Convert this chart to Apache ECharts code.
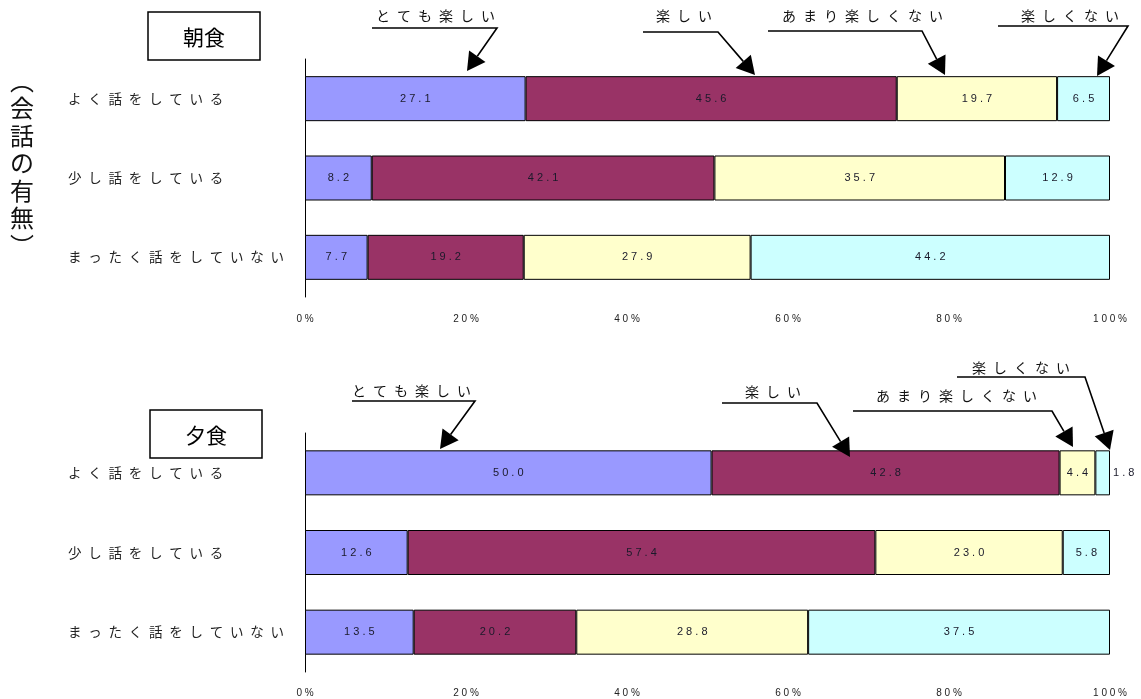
<!DOCTYPE html>
<html>
<head>
<meta charset="utf-8">
<script src="https://cdn.jsdelivr.net/npm/echarts@6/dist/echarts.min.js"></script>
<style>
  html, body { margin: 0; padding: 0; background: #fff; }
  #chart { width: 1141px; height: 699px; }
</style>
</head>
<body>
<div id="chart"></div>
<script>
// Conversation at meals (rows) vs. how enjoyable the meal is (stacked segments), in percent
const categories = ['よく話をしている', '少し話をしている', 'まったく話をしていない'];
const responses = ['とても楽しい', '楽しい', 'あまり楽しくない', '楽しくない'];
const panelTitles = ['朝食', '夕食'];

// 朝食 (breakfast)
const breakfastVeryFun = [27.1, 8.2, 7.7];
const breakfastFun = [45.6, 42.1, 19.2];
const breakfastNotVery = [19.7, 35.7, 27.9];
const breakfastNotFun = [6.5, 12.9, 44.2];

// 夕食 (dinner)
const dinnerVeryFun = [50.0, 12.6, 13.5];
const dinnerFun = [42.8, 57.4, 20.2];
const dinnerNotVery = [4.4, 23.0, 28.8];
const dinnerNotFun = [1.8, 5.8, 37.5];

const axisTicks = [0, 20, 40, 60, 80, 100];

const panels = [
  [breakfastVeryFun, breakfastFun, breakfastNotVery, breakfastNotFun],
  [dinnerVeryFun, dinnerFun, dinnerNotVery, dinnerNotFun]
];

const colors = ['#9999FF', '#993366', '#FFFFCC', '#CCFFFF'];
const JP = '"Noto Sans CJK JP", "Noto Sans", sans-serif';
const NUM = '"Liberation Sans", Arial, sans-serif';
const EN = '\u2002';

// spread the characters of a string apart
const spaced = (s, gap) => Array.from(String(s)).join(gap || EN);

const grids = [
  { left: 305, top: 59, width: 805, height: 238 },
  { left: 305, top: 433, width: 805, height: 239 }
];

const xAxes = grids.map((g, i) => ({
  type: 'value',
  gridIndex: i,
  min: axisTicks[0],
  max: axisTicks[axisTicks.length - 1],
  interval: axisTicks[1] - axisTicks[0],
  axisLine: { show: false },
  axisTick: { show: false },
  splitLine: { show: false },
  axisLabel: {
    formatter: v => spaced(v + '%', ' '),
    fontSize: 10,
    fontFamily: NUM,
    color: '#222',
    margin: i === 0 ? 17 : 16
  }
}));

const yAxes = grids.map((g, i) => ({
  type: 'category',
  gridIndex: i,
  data: categories,
  inverse: true,
  axisLine: { show: true, lineStyle: { color: '#000', width: 1 } },
  axisTick: { show: false },
  splitLine: { show: false },
  axisLabel: {
    formatter: v => spaced(v),
    align: 'left',
    margin: 237,
    fontSize: 13.5,
    fontFamily: JP,
    color: '#222'
  }
}));

// 100% stacked bars: each row is scaled to its own total, labels show the survey values
const series = [];
panels.forEach((rows, p) => {
  const totals = categories.map((c, k) => rows.reduce((s, r) => s + r[k], 0));
  rows.forEach((vals, s) => {
    series.push({
      name: responses[s],
      type: 'bar',
      xAxisIndex: p,
      yAxisIndex: p,
      stack: 'panel' + p,
      barWidth: 45,
      itemStyle: { color: colors[s], borderColor: '#000', borderWidth: 1 },
      label: {
        show: true,
        position: 'inside',
        color: '#1a1a2a',
        fontSize: 11,
        fontFamily: NUM,
        formatter: prm => spaced(vals[prm.dataIndex].toFixed(1), ' ')
      },
      data: vals.map((v, k) => {
        const share = v / totals[k] * 100;
        const item = { value: share };
        if (share < 3) item.label = { position: 'right', distance: 3 };
        return item;
      })
    });
  });
});

// callouts naming the segments: label, underline, leader and arrowhead
const callouts = [
  { text: responses[0], x: 376, y: 16, line: [[372, 28], [497, 28]], tip: [467, 71] },
  { text: responses[1], x: 656, y: 16, line: [[643, 32], [718, 32]], tip: [755, 75] },
  { text: responses[2], x: 782, y: 16, line: [[768, 31], [922, 31]], tip: [945, 75] },
  { text: responses[3], x: 1021, y: 16, line: [[998, 26], [1128, 26]], tip: [1097, 76] },
  { text: responses[0], x: 352, y: 391, line: [[352, 401], [475, 401]], tip: [440, 449] },
  { text: responses[1], x: 745, y: 392, line: [[722, 403], [817, 403]], tip: [850, 457] },
  { text: responses[2], x: 876, y: 396, line: [[853, 411], [1052, 411]], tip: [1073, 447] },
  { text: responses[3], x: 972, y: 368, line: [[957, 377], [1085, 377]], tip: [1110, 450] }
];

const graphic = [];
const HEAD_LEN = 18, HEAD_HALF = 10;
callouts.forEach(c => {
  const start = c.line[1];
  const dx = c.tip[0] - start[0], dy = c.tip[1] - start[1];
  const len = Math.hypot(dx, dy);
  const ux = dx / len, uy = dy / len;
  const bx = c.tip[0] - ux * HEAD_LEN, by = c.tip[1] - uy * HEAD_LEN;
  graphic.push({
    type: 'text', z: 10,
    style: { text: spaced(c.text), x: c.x, y: c.y, font: '14px ' + JP, fill: '#111', verticalAlign: 'middle' }
  });
  graphic.push({
    type: 'polyline', z: 10,
    shape: { points: [c.line[0], c.line[1], [bx, by]] },
    style: { stroke: '#000', lineWidth: 1.6, fill: null }
  });
  graphic.push({
    type: 'polygon', z: 11,
    shape: { points: [c.tip, [bx - uy * HEAD_HALF, by + ux * HEAD_HALF], [bx + uy * HEAD_HALF, by - ux * HEAD_HALF]] },
    style: { fill: '#000' }
  });
});

// boxed panel titles
[[148, 12], [150, 410]].forEach((pos, i) => {
  graphic.push({
    type: 'rect', z: 10,
    shape: { x: pos[0], y: pos[1], width: 112, height: 48 },
    style: { fill: '#fff', stroke: '#000', lineWidth: 1.5 }
  });
  graphic.push({
    type: 'text', z: 11,
    style: { text: panelTitles[i], x: pos[0] + 56, y: pos[1] + 25, font: '21px ' + JP, fill: '#000', align: 'center', verticalAlign: 'middle' }
  });
});

// vertical axis title, written top to bottom
graphic.push({
  type: 'text', z: 10,
  style: {
    text: ['︵', '会', '話', 'の', '有', '無', '︶'].join('\n'),
    x: 22, y: 67, font: '24px ' + JP, lineHeight: 27.5,
    fill: '#111', align: 'center', verticalAlign: 'top'
  }
});

const chart = echarts.init(document.getElementById('chart'), null, { renderer: 'canvas' });
chart.setOption({
  animation: false,
  backgroundColor: '#fff',
  grid: grids,
  xAxis: xAxes,
  yAxis: yAxes,
  series: series,
  graphic: graphic
});
</script>
</body>
</html>
